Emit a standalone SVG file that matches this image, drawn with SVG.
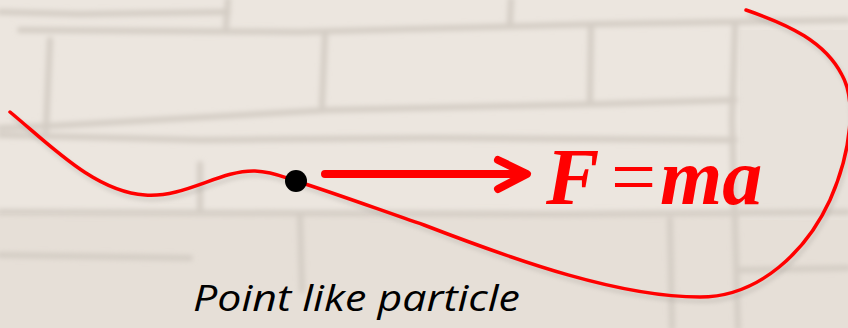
<svg xmlns="http://www.w3.org/2000/svg" width="848" height="328" viewBox="0 0 848 328">
  <style>
    .mortar { fill: none; stroke: #d4cdc5; stroke-width: 6; stroke-linecap: round; }
    .path { fill: none; stroke: #ff0000; stroke-width: 3.5; stroke-linecap: round; }
    .shadow { fill: none; stroke: #9a948e; stroke-width: 4; opacity: 0.3; }
    .arrow { fill: none; stroke: #ff0000; stroke-width: 8; stroke-linecap: round; stroke-linejoin: round; }
    .eq { font-family: "Liberation Serif", "Times New Roman", serif; font-size: 80px; fill: #ff0000; }
    .label { font-family: "Open Sans", "Liberation Sans", sans-serif; font-style: italic; font-size: 37px; fill: #000000; }
  </style>
  <defs>
    <filter id="blur" x="-5%" y="-5%" width="110%" height="110%">
      <feGaussianBlur stdDeviation="2.5"/>
    </filter>
    <filter id="sblur" x="-5%" y="-5%" width="110%" height="110%">
      <feGaussianBlur stdDeviation="2"/>
    </filter>
  </defs>

  <g id="wall">
    <rect x="0" y="0" width="848" height="328" fill="#ece6df"/>
    <rect x="0" y="214" width="848" height="114" fill="#e6dfd7"/>
    <rect x="740" y="30" width="108" height="190" fill="#e8e2db"/>
    <g filter="url(#blur)">
      <path class="mortar" d="M0,12 L80,14 L228,12"/>
      <path class="mortar" d="M228,0 L226,26"/>
      <path class="mortar" d="M20,30 L300,32 L600,24 L848,20"/>
      <path class="mortar" d="M511,0 L510,22"/>
      <path class="mortar" d="M50,40 L46,130"/>
      <path class="mortar" d="M325,34 L322,105"/>
      <path class="mortar" d="M591,26 L590,100"/>
      <path class="mortar" d="M735,26 L732,120 L738,328"/>
      <path class="mortar" d="M0,128 L50,126 L330,110 L600,104 L735,100"/>
      <path class="mortar" d="M0,135 L200,140 L430,138 L735,140"/>
      <path class="mortar" d="M200,164 L200,212"/>
      <path class="mortar" d="M0,212 L300,213 L560,214 L848,212"/>
      <path class="mortar" d="M300,214 L302,290"/>
      <path class="mortar" d="M670,220 L672,328"/>
      <path class="mortar" d="M740,270 L848,268"/>
      <path class="mortar" d="M0,255 L190,258"/>
    </g>
  </g>

  <g id="trajectory">
    <path class="shadow" filter="url(#sblur)" transform="translate(2,4)" d="M10,112 C50,145 95,192 145,195 C185,198 220,170 255,171 C275,172 285,178 296,181 C340,195 380,210 424,225 C520,262 620,297 700,297 C760,297 807,250 830,200 C852,150 856,100 842,75 C825,42 790,25 746,10"/>
    <path class="path" d="M10,112 C50,145 95,192 145,195 C185,198 220,170 255,171 C275,172 285,178 296,181 C340,195 380,210 424,225 C520,262 620,297 700,297 C760,297 807,250 830,200 C852,150 856,100 842,75 C825,42 790,25 746,10"/>
  </g>

  <g id="particle">
    <circle cx="296" cy="181" r="11" fill="#000000"/>
  </g>

  <g id="connectors">
    <path class="arrow" d="M325,174 L526,174 M498,160 L527,174 L498,189"/>
  </g>

  <g id="equation">
    <text class="eq" y="204"><tspan x="546" font-weight="bold" font-style="italic">F</tspan><tspan x="611">=</tspan><tspan x="660" font-weight="bold" font-style="italic">ma</tspan></text>
  </g>

  <g id="caption">
    <text class="label" x="193" y="311" textLength="327" lengthAdjust="spacingAndGlyphs">Point like particle</text>
  </g>
</svg>
